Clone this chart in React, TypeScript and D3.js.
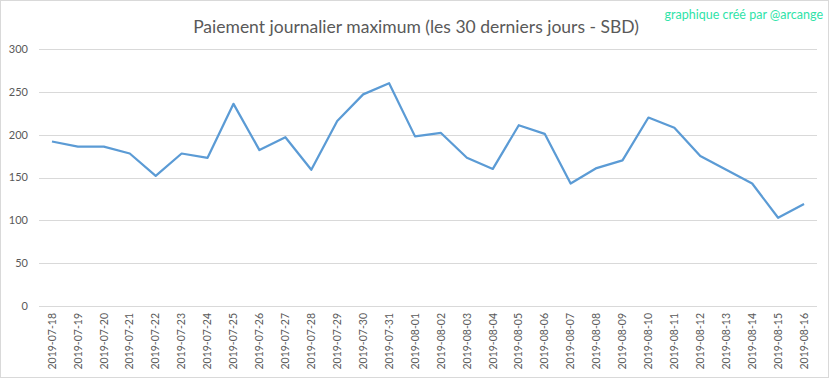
import React from "react";
import * as d3 from "d3";

const dates = [
  "2019-07-18","2019-07-19","2019-07-20","2019-07-21","2019-07-22","2019-07-23","2019-07-24","2019-07-25","2019-07-26","2019-07-27",
  "2019-07-28","2019-07-29","2019-07-30","2019-07-31","2019-08-01","2019-08-02","2019-08-03","2019-08-04","2019-08-05","2019-08-06",
  "2019-08-07","2019-08-08","2019-08-09","2019-08-10","2019-08-11","2019-08-12","2019-08-13","2019-08-14","2019-08-15","2019-08-16",
];
const values = [
  192, 186, 186, 178, 152, 178, 173, 236, 182, 197,
  159, 216, 247, 260, 198, 202, 173, 160, 211, 201,
  143, 161, 170, 220, 208, 175, 159, 143, 103, 119,
];
const yTicks = [0, 50, 100, 150, 200, 250, 300];
const title = "Paiement journalier maximum (les 30 derniers jours - SBD)";
const credit = "graphique créé par @arcange";

const W = 833, H = 379;
const plot = { left: 39, right: 817, top: 49, bottom: 306 };
const FONT = "Lato, 'Open Sans', sans-serif";

export default function App() {
  const x = d3.scaleBand<string>().domain(dates).range([plot.left, plot.right]);
  const y = d3.scaleLinear().domain([0, 300]).range([plot.bottom, plot.top]);
  const line = d3
    .line<number>()
    .x((_, i) => (x(dates[i]) as number) + x.bandwidth() / 2)
    .y((d) => y(d));

  return (
    <svg width={W} height={H} style={{ position: "absolute", left: 0, top: 0, background: "#fff" }}>
      <rect x={0.5} y={0.5} width={828} height={377} fill="#fff" stroke="#d9d9d9" />
      <text x={416} y={33} textAnchor="middle" fontFamily={FONT} fontSize={17.5} fill="#595959">
        {title}
      </text>
      <text x={823} y={19} textAnchor="end" fontFamily={FONT} fontSize={12.5} fill="#2fe3a8">
        {credit}
      </text>
      {yTicks.map((t) => (
        <g key={t}>
          <line x1={plot.left} x2={plot.right} y1={Math.round(y(t)) + 0.5} y2={Math.round(y(t)) + 0.5} stroke="#d9d9d9" />
          <text x={28} y={y(t)} dy="0.35em" textAnchor="end" fontFamily={FONT} fontSize={11} fill="#595959">
            {t}
          </text>
        </g>
      ))}
      {dates.map((d) => {
        const cx = (x(d) as number) + x.bandwidth() / 2;
        return (
          <text
            key={d}
            transform={`translate(${cx},313) rotate(-90)`}
            textAnchor="end"
            dy="0.35em"
            fontFamily={FONT}
            fontSize={10.5}
            fill="#595959"
          >
            {d}
          </text>
        );
      })}
      <path d={line(values) || ""} fill="none" stroke="#5b9bd5" strokeWidth={2.25} strokeLinejoin="round" />
    </svg>
  );
}
